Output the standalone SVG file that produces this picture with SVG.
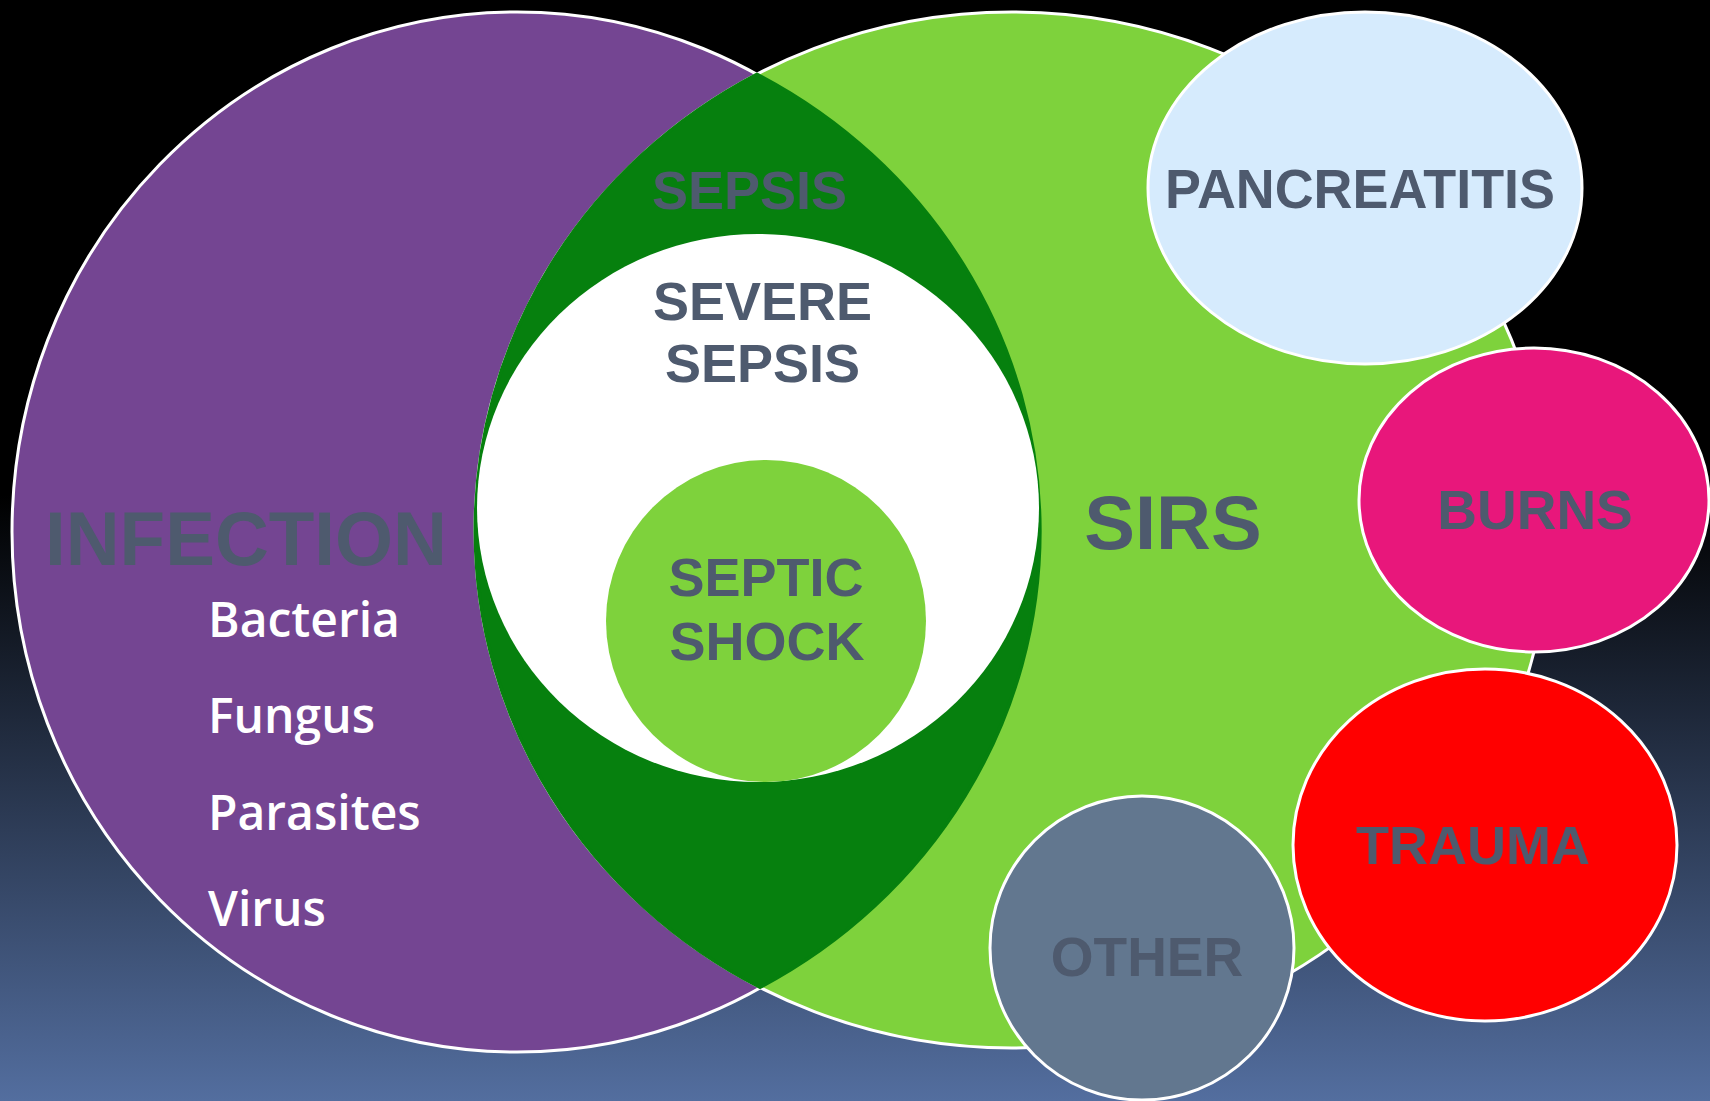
<svg xmlns="http://www.w3.org/2000/svg" width="1710" height="1101" viewBox="0 0 1710 1101">
  <defs>
    <linearGradient id="bg" x1="0" y1="0" x2="0" y2="1">
      <stop offset="0" stop-color="#000000"/>
      <stop offset="0.45" stop-color="#000000"/>
      <stop offset="1" stop-color="#536e9f"/>
    </linearGradient>
    <style>
      .out { stroke: #ffffff; stroke-width: 3; }
      .lbl { font-family: "Liberation Sans", Arial, sans-serif; font-weight: bold; fill: #4e5a6e; text-anchor: middle; }
      .item { font-family: "Open Sans", "Noto Sans", sans-serif; font-weight: 600; fill: #ffffff; font-size: 48px; }
    </style>
  </defs>
  <rect x="0" y="0" width="1710" height="1101" fill="url(#bg)"/>

  <g id="infection">
    <ellipse class="out" cx="517" cy="532" rx="505" ry="520" fill="#744592"/>
  </g>
  <g id="sirs">
    <ellipse class="out" cx="1012" cy="530" rx="537" ry="518" fill="#7ed23c"/>
  </g>
  <g id="sepsis">
    <path d="M757,74.3 A537,518 0 0 0 760,987.3 A540,520 0 0 0 757,74.3 Z" fill="#06800e" stroke="#06800e" stroke-width="3.5" stroke-linejoin="round"/>
  </g>
  <g id="severe-sepsis">
    <ellipse cx="758" cy="508" rx="281" ry="274" fill="#ffffff"/>
  </g>
  <g id="septic-shock">
    <ellipse cx="766" cy="621" rx="160" ry="161" fill="#7ed23c"/>
  </g>

  <g id="pancreatitis">
    <ellipse class="out" cx="1365" cy="188" rx="217" ry="176" fill="#d6ebfd"/>
    <text class="lbl" x="1360" y="208" font-size="56" textLength="390" lengthAdjust="spacingAndGlyphs">PANCREATITIS</text>
  </g>
  <g id="burns">
    <ellipse class="out" cx="1534" cy="500" rx="175" ry="152" fill="#e8177b"/>
    <text class="lbl" x="1535" y="529" font-size="55">BURNS</text>
  </g>
  <g id="trauma">
    <ellipse class="out" cx="1485" cy="845" rx="192" ry="176" fill="#ff0000"/>
    <text class="lbl" x="1473" y="864" font-size="54">TRAUMA</text>
  </g>
  <g id="other">
    <ellipse class="out" cx="1142" cy="948" rx="152" ry="152" fill="#62778f"/>
    <text class="lbl" x="1147" y="976" font-size="55">OTHER</text>
  </g>

  <g id="labels">
    <text class="lbl" x="246" y="565" font-size="76" textLength="402" lengthAdjust="spacingAndGlyphs">INFECTION</text>
    <text class="item" x="208" y="637">Bacteria</text>
    <text class="item" x="208" y="733">Fungus</text>
    <text class="item" x="208" y="830">Parasites</text>
    <text class="item" x="208" y="926">Virus</text>
    <text class="lbl" x="1173" y="549" font-size="76">SIRS</text>
    <text class="lbl" x="749.5" y="209" font-size="54">SEPSIS</text>
    <text class="lbl" x="762.5" y="320" font-size="54">SEVERE</text>
    <text class="lbl" x="762.5" y="382" font-size="54">SEPSIS</text>
    <text class="lbl" x="766" y="596" font-size="54">SEPTIC</text>
    <text class="lbl" x="767" y="660" font-size="54">SHOCK</text>
  </g>

  <g id="connectors"/>
</svg>
